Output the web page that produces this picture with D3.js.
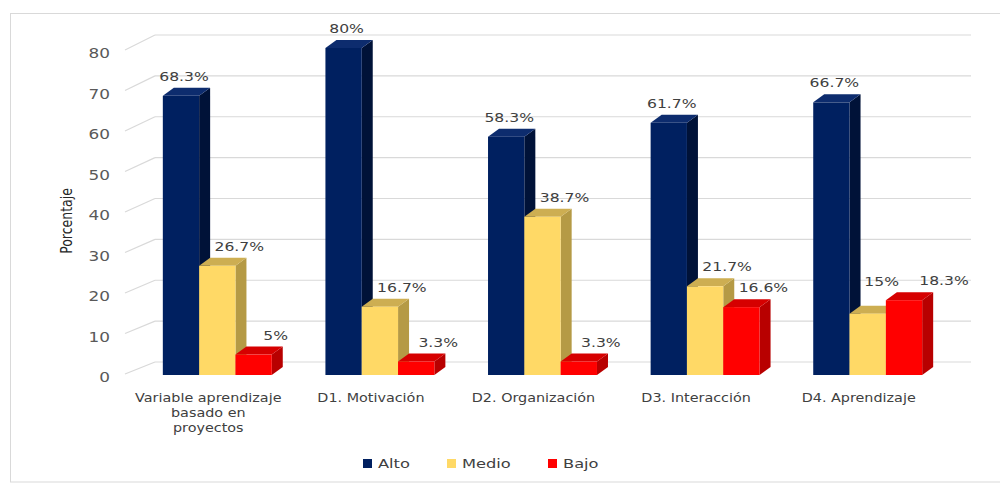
<!DOCTYPE html>
<html>
<head>
<meta charset="utf-8">
<script src="https://cdn.jsdelivr.net/npm/d3@7"></script>
<style>
  html, body { margin: 0; padding: 0; background: #fff; }
  svg { display: block; }
</style>
</head>
<body>
<svg id="chart" width="1000" height="483"></svg>
<script>
// ---- data ----
const categories = ["Variable aprendizaje basado en proyectos", "D1. Motivación", "D2. Organización", "D3. Interacción", "D4. Aprendizaje"];
const categoryLines = [["Variable aprendizaje", "basado en", "proyectos"], ["D1. Motivación"], ["D2. Organización"], ["D3. Interacción"], ["D4. Aprendizaje"]];
const seriesNames = ["Alto", "Medio", "Bajo"];
const alto  = [68.3, 80, 58.3, 61.7, 66.7];
const medio = [26.7, 16.7, 38.7, 21.7, 15];
const bajo  = [5, 3.3, 3.3, 16.6, 18.3];
const altoLabels  = ["68.3%", "80%", "58.3%", "61.7%", "66.7%"];
const medioLabels = ["26.7%", "16.7%", "38.7%", "21.7%", "15%"];
const bajoLabels  = ["5%", "3.3%", "3.3%", "16.6%", "18.3%"];
const yTicks = [0, 10, 20, 30, 40, 50, 60, 70, 80];
const yTitle = "Porcentaje";

// ---- styles ----
const colors = {
  Alto:  { front: "#002060", side: "#001238", top: "#0d2c6e" },
  Medio: { front: "#FFD966", side: "#B59A45", top: "#CDAE52" },
  Bajo:  { front: "#FF0000", side: "#B80000", top: "#D60000" }
};
const SX = 1.25; // horizontal text stretch seen in the reference
const dx = 11, dy = 8;

const svg = d3.select("#chart");

// border
svg.append("rect").attr("x", 10.5).attr("y", 13.5).attr("width", 1000).attr("height", 468.5)
  .attr("fill", "none").attr("stroke", "#d9d9d9");

// scales
const yBar  = d3.scaleLinear().domain([0, 80]).range([375, 48]);
const yGrid = d3.scaleLinear().domain([0, 80]).range([362, 35]);
const yTick = d3.scaleLinear().domain([0, 80]).range([377, 53]);
const x0 = d3.scaleBand().domain(categories).range([136, 949]).paddingInner(0.33).paddingOuter(0.165);
const x1 = d3.scaleBand().domain(seriesNames).range([0, x0.bandwidth()]);

function stretchText(g, x, y, txt) {
  return g.append("text").attr("transform", `translate(${x},${y}) scale(${SX},1)`).text(txt);
}

// gridlines (back wall + floor diagonal)
const grid = svg.append("g").attr("stroke", "#d9d9d9").attr("stroke-width", 1.2).attr("fill", "none");
yTicks.forEach(t => {
  grid.append("line").attr("x1", 155).attr("x2", 971).attr("y1", yGrid(t)).attr("y2", yGrid(t));
  grid.append("line").attr("x1", 125).attr("x2", 155).attr("y1", yTick(t) - 3).attr("y2", yGrid(t));
});

// y tick labels
const tickG = svg.append("g").attr("font-family", "DejaVu Sans, sans-serif").attr("font-size", 13.5)
  .attr("fill", "#595959").attr("text-anchor", "end");
yTicks.forEach(t => stretchText(tickG, 110, yTick(t) + 5, String(t)));

// y title
svg.append("text").attr("transform", `translate(72,221) scale(${SX},1) rotate(-90)`)
  .attr("font-family", "DejaVu Sans, sans-serif").attr("font-size", 12.5).attr("fill", "#262626")
  .attr("text-anchor", "middle").text(yTitle);

// bars
const seriesVals = { Alto: alto, Medio: medio, Bajo: bajo };
const seriesLabs = { Alto: altoLabels, Medio: medioLabels, Bajo: bajoLabels };
const barsG = svg.append("g");
const labelsG = svg.append("g").attr("font-family", "DejaVu Sans, sans-serif").attr("font-size", 12.5)
  .attr("fill", "#404040").attr("text-anchor", "middle");

categories.forEach((c, i) => {
  const g = barsG.append("g");
  let prevLifted = false;
  seriesNames.forEach((s, k) => {
    const v = seriesVals[s][i];
    const x = x0(c) + x1(s);
    const w = x1.bandwidth();
    const yt = yBar(v), yb = yBar(0);
    const col = colors[s];
    // side
    g.append("polygon").attr("points", [[x + w, yt], [x + w + dx, yt - dy], [x + w + dx, yb - dy], [x + w, yb]].map(p => p.join(",")).join(" "))
      .attr("fill", col.side);
    // top
    g.append("polygon").attr("points", [[x, yt], [x + dx, yt - dy], [x + w + dx, yt - dy], [x + w, yt]].map(p => p.join(",")).join(" "))
      .attr("fill", col.top);
    // front
    g.append("rect").attr("x", x).attr("y", yt).attr("width", w).attr("height", yb - yt).attr("fill", col.front);
    // label placement (avoid the next, taller bar in the group)
    let lx = x + w / 2 + (s === "Alto" ? 3 : 22);
    let ly = yt - dy - 7;
    if (prevLifted) lx += 18;
    prevLifted = false;
    if (s !== "Alto" && k < seriesNames.length - 1) {
      const nv = seriesVals[seriesNames[k + 1]][i];
      const nTop = yBar(nv) - dy;
      if (ly > nTop - 4) { ly = nTop - 6; lx = x + w / 2 + 14; prevLifted = true; }
    }
    stretchText(labelsG, lx, ly, seriesLabs[s][i]);
  });
});

// category labels
const catG = svg.append("g").attr("font-family", "DejaVu Sans, sans-serif").attr("font-size", 11.5)
  .attr("fill", "#404040").attr("text-anchor", "middle");
categories.forEach((c, i) => {
  const cx = x0(c) + x0.bandwidth() / 2 - 9;
  categoryLines[i].forEach((ln, j) => stretchText(catG, cx, 402 + j * 15, ln));
});

// legend
const legendX = { Alto: 363, Medio: 447, Bajo: 548 };
const legG = svg.append("g").attr("font-family", "DejaVu Sans, sans-serif").attr("font-size", 13)
  .attr("fill", "#404040");
seriesNames.forEach(s => {
  legG.append("rect").attr("x", legendX[s]).attr("y", 459).attr("width", 9).attr("height", 9).attr("fill", colors[s].front);
  stretchText(legG, legendX[s] + 15, 468, s);
});
</script>
</body>
</html>
